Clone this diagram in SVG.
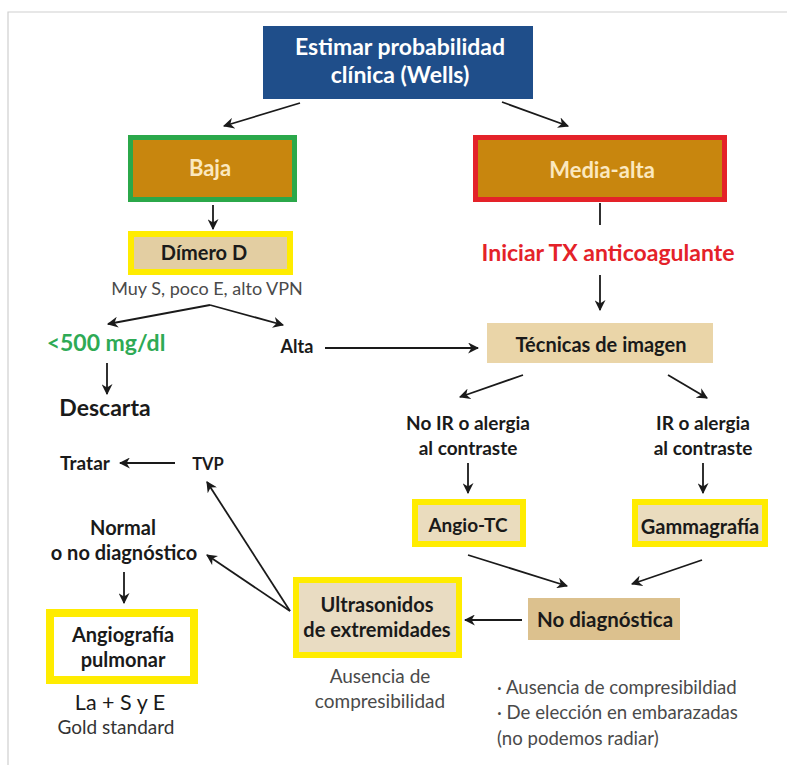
<svg xmlns="http://www.w3.org/2000/svg" width="787" height="765" viewBox="0 0 787 765">
<defs>
<marker id="ah" viewBox="0 0 10 10" refX="9" refY="5" markerWidth="11" markerHeight="11" markerUnits="userSpaceOnUse" orient="auto">
<path d="M0,0 L10,5 L0,10 L3,5 Z" fill="#1a1a1a"/>
</marker>
</defs>
<style>
text{font-family:Lato,"Open Sans","Liberation Sans",sans-serif;text-anchor:middle;fill:#1a1a1a}
.b{font-weight:bold}
.w{fill:#ffffff}
.cr{fill:#fbe8bf}
.g{fill:#4a4a4a}
.conn line{stroke:#1a1a1a;stroke-width:1.8;fill:none}
.yb{stroke:#ffec00;stroke-width:6}
</style>
<rect x="0" y="0" width="787" height="765" fill="#ffffff"/>
<path d="M8,765 V12 H787" fill="none" stroke="#cfcfcf" stroke-width="1.2"/>

<g id="wells">
<rect x="263" y="26" width="270" height="73" fill="#1f4e8a"/>
<text x="400" y="55" class="b w" font-size="23">Estimar probabilidad</text>
<text x="400" y="83" class="b w" font-size="23">clínica (Wells)</text>
</g>
<g id="baja">
<rect x="130.5" y="137.5" width="164" height="62" fill="#c8860e" stroke="#2ba84a" stroke-width="5"/>
<text x="210" y="176" class="b cr" font-size="22">Baja</text>
</g>
<g id="media-alta">
<rect x="475.5" y="137.5" width="249" height="62" fill="#c8860e" stroke="#e42229" stroke-width="5"/>
<text x="602" y="178" class="b cr" font-size="22">Media-alta</text>
</g>
<g id="dimero">
<rect x="131" y="234" width="159" height="38" fill="#e3cea2" class="yb"/>
<text x="204" y="260" class="b" font-size="20">Dímero D</text>
</g>
<text x="207" y="295" class="g" font-size="18">Muy S, poco E, alto VPN</text>
<g id="menor500"><text x="106" y="351" class="b" font-size="23" style="fill:#2eaa55">&lt;500 mg/dl</text></g>
<g id="alta"><text x="297" y="353" class="b" font-size="18">Alta</text></g>
<g id="descarta"><text x="105" y="416" class="b" font-size="23">Descarta</text></g>
<g id="tratar"><text x="85" y="470" class="b" font-size="19">Tratar</text></g>
<g id="tvp"><text x="208" y="470" class="b" font-size="16.5">TVP</text></g>
<g id="normal">
<text x="123" y="535" class="b" font-size="20">Normal</text>
<text x="124" y="560" class="b" font-size="20">o no diagnóstico</text>
</g>
<g id="angiografia">
<rect x="50" y="613" width="144" height="67" fill="#ffffff" stroke="#ffec00" stroke-width="8"/>
<text x="123" y="642" class="b" font-size="20">Angiografía</text>
<text x="123" y="667" class="b" font-size="20">pulmonar</text>
</g>
<text x="120" y="710" font-size="21.5">La + S y E</text>
<text x="116" y="734" class="g" font-size="19" style="fill:#333">Gold standard</text>

<g id="iniciar"><text x="608" y="261" class="b" font-size="23" style="fill:#e42229">Iniciar TX anticoagulante</text></g>
<g id="tecnicas">
<rect x="487" y="323" width="226" height="40" fill="#ead5a8"/>
<text x="601" y="352" class="b" font-size="20">Técnicas de imagen</text>
</g>
<g id="no-ir">
<text x="468" y="430" font-size="19" class="b">No IR o alergia</text>
<text x="468" y="455" font-size="19" class="b">al contraste</text>
</g>
<g id="ir">
<text x="703" y="430" font-size="19" class="b">IR o alergia</text>
<text x="703" y="455" font-size="19" class="b">al contraste</text>
</g>
<g id="angio-tc">
<rect x="415" y="502" width="108" height="42" fill="#eadcbe" class="yb"/>
<text x="468" y="532" class="b" font-size="19">Angio-TC</text>
</g>
<g id="gammagrafia">
<rect x="635" y="502" width="130" height="42" fill="#eadcbe" class="yb"/>
<text x="700" y="534" class="b" font-size="20">Gammagrafía</text>
</g>
<g id="no-diagnostica">
<rect x="528" y="598" width="152" height="42" fill="#dcc18e"/>
<text x="605" y="627" class="b" font-size="20.5">No diagnóstica</text>
</g>
<g id="ultrasonidos">
<rect x="296" y="580" width="163" height="75" fill="#e9dcc2" class="yb"/>
<text x="377" y="612" class="b" font-size="20">Ultrasonidos</text>
<text x="377" y="637" class="b" font-size="20">de extremidades</text>
</g>
<text x="380" y="683" class="g" font-size="19">Ausencia de</text>
<text x="380" y="708" class="g" font-size="19">compresibilidad</text>
<g id="notas">
<text x="497" y="694" class="g" font-size="18.6" style="text-anchor:start">· Ausencia de compresibildiad</text>
<text x="497" y="719" class="g" font-size="18.6" style="text-anchor:start">· De elección en embarazadas</text>
<text x="497" y="745" class="g" font-size="18.6" style="text-anchor:start"> (no podemos radiar)</text>
</g>

<g id="connectors" class="conn">
<line x1="300" y1="103" x2="224" y2="126" marker-end="url(#ah)"/>
<line x1="502" y1="102" x2="568" y2="126" marker-end="url(#ah)"/>
<line x1="213" y1="205" x2="213" y2="229" marker-end="url(#ah)"/>
<line x1="210" y1="305" x2="108" y2="324" marker-end="url(#ah)"/>
<line x1="210" y1="305" x2="283" y2="325" marker-end="url(#ah)"/>
<line x1="325" y1="348" x2="478" y2="348" marker-end="url(#ah)"/>
<line x1="107" y1="363" x2="107" y2="394" marker-end="url(#ah)"/>
<line x1="175" y1="463" x2="120" y2="463" marker-end="url(#ah)"/>
<line x1="290" y1="611" x2="207" y2="482" marker-end="url(#ah)"/>
<line x1="290" y1="611" x2="207" y2="555" marker-end="url(#ah)"/>
<line x1="124" y1="572" x2="124" y2="603" marker-end="url(#ah)"/>
<line x1="600" y1="203" x2="600" y2="225"/>
<line x1="600" y1="275" x2="600" y2="310" marker-end="url(#ah)"/>
<line x1="523" y1="375" x2="460" y2="397" marker-end="url(#ah)"/>
<line x1="668" y1="375" x2="707" y2="398" marker-end="url(#ah)"/>
<line x1="468" y1="463" x2="468" y2="493" marker-end="url(#ah)"/>
<line x1="703" y1="463" x2="703" y2="493" marker-end="url(#ah)"/>
<line x1="468" y1="555" x2="567" y2="586" marker-end="url(#ah)"/>
<line x1="702" y1="560" x2="632" y2="584" marker-end="url(#ah)"/>
<line x1="522" y1="620" x2="465" y2="620" marker-end="url(#ah)"/>
</g>
</svg>
